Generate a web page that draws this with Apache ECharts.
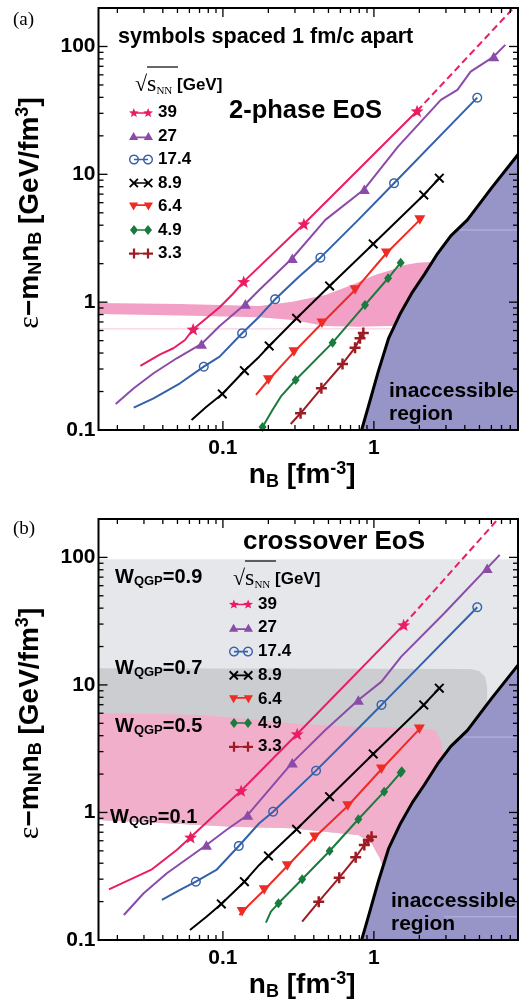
<!DOCTYPE html>
<html>
<head>
<meta charset="utf-8">
<script src="https://cdn.jsdelivr.net/npm/echarts@6.0.0/dist/echarts.min.js"></script>
<style>
html,body{margin:0;padding:0;background:#ffffff;}
#chart{width:521px;height:1002px;}
</style>
</head>
<body>
<div id="chart"></div>
<script>
const SANS = '"Liberation Sans", Arial, Helvetica, sans-serif';
const SERIF = '"Liberation Serif", "Times New Roman", serif';

// ---------- axes ----------
const xMin = 0.015, xMax = 9, yMin = 0.1, yMax = 200;
const xTickLabels = [0.1, 1];
const yTickLabels = [0.1, 1, 10, 100];
const xMajorTicks = [0.1, 1];
const xMinorTicks = [0.02,0.03,0.04,0.05,0.06,0.07,0.08,0.09,0.2,0.3,0.4,0.5,0.6,0.7,0.8,0.9,2,3,4,5,6,7,8];
const yMajorTicks = [1, 10, 100];
const yMinorTicks = [0.2,0.3,0.4,0.5,0.6,0.7,0.8,0.9,2,3,4,5,6,7,8,9,20,30,40,50,60,70,80,90];

// ---------- series ----------
const seriesNames = ['39', '27', '17.4', '8.9', '6.4', '4.9', '3.3'];
const seriesColors = ['#ea1d62', '#8b4ba8', '#3461ab', '#000000', '#ee2b24', '#1b7a3e', '#9e1b22'];
const wLabels = ['0.9', '0.7', '0.5', '0.1'];

// panel (a): [nB, eps, marker?]
const a39 = [[0.0284,0.317,0],[0.0384,0.391,0],[0.0470,0.436,0],[0.0561,0.506,0],[0.0635,0.614,1],[0.0778,0.748,0],[0.0951,0.912,0],[0.1163,1.159,0],[0.1373,1.447,1],[0.3436,4.09,1],[1.932,31.3,1]];
const a39dash = [[1.932,31.3],[8.4,200]];
const a27 = [[0.0195,0.1597,0],[0.02567,0.212,0],[0.03473,0.2778,0],[0.04945,0.364,0],[0.07214,0.471,1],[0.0951,0.6513,0],[0.1409,0.968,1],[0.174,1.246,0],[0.288,2.206,1],[0.477,4.40,0],[0.864,7.645,1],[1.444,16.47,0],[2.777,38.2,0],[3.574,45.75,0],[4.37,63.6,0],[6.22,83.4,1],[7.41,102.9,0]];
const a17 = [[0.02567,0.1494,0],[0.03473,0.177,0],[0.05198,0.2319,0],[0.07468,0.3128,1],[0.0951,0.3747,0],[0.134,0.571,1],[0.174,0.770,0],[0.2217,1.054,1],[0.3186,1.583,0],[0.442,2.230,1],[0.788,4.40,0],[1.359,8.52,1],[4.835,39.8,1]];
const a89 = [[0.0620,0.1197,0],[0.0778,0.1522,0],[0.0991,0.1913,1],[0.1388,0.291,1],[0.174,0.3747,0],[0.2025,0.4544,1],[0.3077,0.748,1],[0.5088,1.339,1],[0.9894,2.854,1],[2.138,6.90,1],[2.711,9.32,1]];
const a64 = [[0.1656,0.1879,0],[0.2003,0.2461,1],[0.2954,0.407,1],[0.453,0.6839,1],[0.7502,1.246,1],[1.2098,2.413,1],[2.014,4.40,1]];
const a49 = [[0.181,0.098,0],[0.183,0.1055,1],[0.2129,0.1434,0],[0.2416,0.1823,0],[0.303,0.2461,1],[0.5325,0.4821,1],[0.8729,0.9508,1],[1.2409,1.538,1],[1.504,2.038,1]];
const a33 = [[0.2811,0.1114,0],[0.3268,0.1351,1],[0.4489,0.212,1],[0.6194,0.3284,1],[0.7502,0.4406,1],[0.8092,0.522,1],[0.8507,0.574,1]];

// panel (b)
const b39 = [[0.01759,0.2498,0],[0.0339,0.3585,0],[0.04945,0.508,0],[0.0611,0.639,1],[0.0905,0.9857,0],[0.132,1.482,1],[0.3105,4.128,1],[1.574,29.55,1]];
const b39dash = [[1.574,29.55],[6.64,200]];
const b27 = [[0.02207,0.157,0],[0.02987,0.2324,0],[0.04252,0.3336,0],[0.0778,0.5561,1],[0.1053,0.729,0],[0.1459,0.9559,1],[0.288,2.458,1],[0.477,4.436,0],[0.789,7.627,1],[1.122,10.61,0],[1.517,16.67,0],[2.924,36.5,0],[5.623,82.3,1],[6.81,104.6,0]];
const b17 = [[0.03943,0.206,0],[0.05198,0.2467,0],[0.0662,0.2867,1],[0.0905,0.354,0],[0.1274,0.546,1],[0.174,0.823,0],[0.2151,1.0146,1],[0.4138,2.128,1],[0.7687,4.436,0],[1.122,6.97,1],[4.835,40.7,1]];
const b89 = [[0.0605,0.1198,0],[0.0778,0.1523,0],[0.0976,0.1916,1],[0.1388,0.2867,1],[0.174,0.3876,0],[0.2003,0.456,1],[0.3077,0.738,1],[0.5088,1.33,1],[0.9894,2.876,1],[2.138,6.97,1],[2.711,9.42,1]];
const b64 = [[0.1287,0.157,0],[0.134,0.1667,1],[0.1878,0.2467,1],[0.267,0.38,1],[0.4058,0.639,1],[0.6712,1.124,1],[1.122,2.183,1],[2.0,4.5,1]];
const b49 = [[0.1927,0.1367,0],[0.2078,0.1667,0],[0.2331,0.194,1],[0.3348,0.2993,1],[0.5088,0.4989,1],[0.789,0.8844,1],[1.169,1.456,1],[1.504,2.052,1],[1.53,2.1,1]];
const b33 = [[0.3348,0.1391,0],[0.431,0.1998,1],[0.5892,0.308,1],[0.7572,0.4453,1],[0.864,0.5561,1],[0.918,0.6085,1],[0.9645,0.6457,1]];

// inaccessible-region boundary (both panels)
const boundary = [[0.829,0.1],[0.918,0.152],[1.067,0.285],[1.25,0.52],[1.5,0.82],[1.8,1.2],[2.16,1.65],[2.64,2.4],[3.23,3.3],[4.16,4.4],[6,7.8],[9,14.3]];

// panel (a) pink band (upper edge left->right, lower edge right->left)
const pinkAUpper = [[0.015,0.986],[0.052,0.968],[0.174,0.934],[0.288,1.009],[0.477,1.139],[0.713,1.363],[1.015,1.633],[1.305,1.786],[1.597,1.955],[1.953,2.038],[2.513,2.075],[9,2.14]];
const pinkALower = [[9,0.651],[1.181,0.651],[0.789,0.643],[0.477,0.651],[0.288,0.726],[0.174,0.762],[0.052,0.787],[0.015,0.809]];
const faintPinkA = [[0.015,0.617],[1.34,0.617]];
const faintPurpleA = [[3.57,3.67],[9,3.67]];
const faintPurpleB = [[3.9,3.9],[9,3.9]];
const faintPurpleB2 = [[2.92,0.152],[9,0.152]];

// panel (b) W_QGP contours
const w09 = [[0.015,96.8],[9,96.8]];
const w07 = [[0.015,13.52],[4.37,13.35],[4.98,12.88],[5.457,11.55],[5.623,9.70],[5.623,5.31],[9,0.1]];
const w05 = [[0.015,6.03],[0.0703,5.82],[0.174,5.31],[0.3186,4.94],[0.788,4.68],[1.953,4.60],[2.528,4.44],[2.769,3.70],[2.897,2.72],[3.574,1.25],[9,0.1]];
const w01 = [[0.015,0.873],[0.0425,0.823],[0.1163,0.774],[0.288,0.752],[0.477,0.707],[0.789,0.666],[0.9645,0.5734],[1.095,0.4373],[1.169,0.354],[1.953,0.1],[9,0.1]];

// ---------- symbol paths ----------
function P(polys){return 'path://'+polys.map(pl=>'M'+pl.map(q=>q[0].toFixed(3)+' '+q[1].toFixed(3)).join(' L')+' Z').join(' ');}
function starPoly(cx,cy,R,r){const pts=[];for(let i=0;i<10;i++){const a=(-90+36*i)*Math.PI/180;const rr=i%2?r:R;pts.push([cx+rr*Math.cos(a),cy+rr*Math.sin(a)]);}return pts;}
function circlePoly(cx,cy,R,n,rev){const pts=[];for(let i=0;i<n;i++){const a=2*Math.PI*i/n;pts.push([cx+R*Math.cos(a),cy+R*Math.sin(a)]);}return rev?pts.reverse():pts;}
function barPoly(x0,x1,cy,t){return [[x0,cy-t/2],[x1,cy-t/2],[x1,cy+t/2],[x0,cy+t/2]];}
function xPolys(cx,cy,R,t){const s=Math.SQRT1_2*t/2;return [
  [[cx-R+s,cy-R-s],[cx+R+s,cy+R-s],[cx+R-s,cy+R+s],[cx-R-s,cy-R+s]],
  [[cx-R-s,cy+R-s],[cx+R-s,cy-R-s],[cx+R+s,cy-R+s],[cx-R+s,cy+R+s]]];}
function plusPolys(cx,cy,R,t){return [barPoly(cx-R,cx+R,cy,t),[[cx-t/2,cy-R],[cx+t/2,cy-R],[cx+t/2,cy+R],[cx-t/2,cy+R]]];}
const shapeFns = [
  (c,R)=>[starPoly(c[0],c[1],R,R*0.42)],
  (c,R)=>[[[c[0],c[1]-R],[c[0]+0.866*R,c[1]+0.5*R],[c[0]-0.866*R,c[1]+0.5*R]]],
  (c,R)=>[circlePoly(c[0],c[1],R,28,false),circlePoly(c[0],c[1],R*0.72,28,true)],
  (c,R)=>xPolys(c[0],c[1],R*0.8,R*0.36),
  (c,R)=>[[[c[0]-0.866*R,c[1]-0.5*R],[c[0]+0.866*R,c[1]-0.5*R],[c[0],c[1]+R]]],
  (c,R)=>[[[c[0],c[1]-R],[c[0]+0.8*R,c[1]],[c[0],c[1]+R],[c[0]-0.8*R,c[1]]]],
  (c,R)=>plusPolys(c[0],c[1],R,R*0.45)
];
const markerSizes = [13, 11, 10, 10, 11, 10, 11];
const markerPaths = shapeFns.map(f=>P(f([0,0],5)));
const legendPaths = shapeFns.map(f=>P([].concat(f([5,5],5),[barPoly(5,19,5,1.6)],f([19,5],5))));

// ---------- helpers ----------
function labelFmt(list){return v=>{const h=list.find(t=>Math.abs(Math.log10(v/t))<1e-6);return h!==undefined?String(h):'';};}
const nameRich = {
  t:{fontSize:28,fontWeight:'bold',fontFamily:SANS,color:'#000',lineHeight:31},
  s:{fontSize:18,fontWeight:'bold',fontFamily:SANS,color:'#000',lineHeight:18,verticalAlign:'bottom'},
  p:{fontSize:18,fontWeight:'bold',fontFamily:SANS,color:'#000',lineHeight:18,verticalAlign:'top'},
  e:{fontSize:30,fontWeight:'normal',fontFamily:SERIF,color:'#000',lineHeight:31},
  z:{width:12,fontSize:10,lineHeight:10}
};
function axX(i){return {type:'log',logBase:10,gridIndex:i,min:xMin,max:xMax,
  axisLine:{show:false},axisTick:{show:false},minorTick:{show:false},splitLine:{show:false},
  axisLabel:{formatter:labelFmt(xTickLabels),margin:8,fontSize:21,fontWeight:'bold',fontFamily:SANS,color:'#000',showMinLabel:true,showMaxLabel:true},
  name:'{t|n}{s|B}{t| [fm}{p|-3}{t|]}{z| }',nameLocation:'middle',nameGap:20,nameTextStyle:{rich:nameRich}};}
function axY(i){return {type:'log',logBase:10,gridIndex:i,min:yMin,max:yMax,
  axisLine:{show:false},axisTick:{show:false},minorTick:{show:false},splitLine:{show:false},
  axisLabel:{formatter:labelFmt(yTickLabels),margin:3,fontSize:21,fontWeight:'bold',fontFamily:SANS,color:'#000',showMinLabel:true,showMaxLabel:true},
  name:'{z| }{e|ε}{t|−m}{s|N}{t|n}{s|B}{t| [GeV/fm}{p|3}{t|]}',nameLocation:'middle',nameGap:53,nameTextStyle:{rich:nameRich}};}

function polySeries(gi,pts,color,z){return {type:'custom',xAxisIndex:gi,yAxisIndex:gi,data:[[1,1]],z:z,silent:true,clip:true,
  renderItem:(params,api)=>({type:'polygon',shape:{points:pts.map(p=>api.coord(p))},style:{fill:color}})};}
function plainLine(gi,pts,color,width,z,type){return {type:'line',xAxisIndex:gi,yAxisIndex:gi,data:pts,symbol:'none',z:z,silent:true,clip:true,
  lineStyle:{color:color,width:width,type:type||'solid'},emphasis:{disabled:true}};}
function trajSeries(gi,k,pts){return {type:'line',name:seriesNames[k],xAxisIndex:gi,yAxisIndex:gi,z:4,silent:true,clip:true,
  data:pts.map(p=>({value:[p[0],p[1]],symbol:p[2]?markerPaths[k]:'none'})),
  symbolSize:markerSizes[k],symbolKeepAspect:true,showSymbol:true,smooth:false,
  lineStyle:{color:seriesColors[k],width:2},itemStyle:{color:seriesColors[k]},emphasis:{disabled:true}};}
function tickSeries(gi){return {type:'custom',xAxisIndex:gi,yAxisIndex:gi,data:[[1,1]],z:10,silent:true,clip:false,
  renderItem:(params,api)=>{
    const cs=params.coordSys,L=cs.x,T=cs.y,W=cs.width,H=cs.height,ch=[];
    const seg=(x1,y1,x2,y2)=>ch.push({type:'line',shape:{x1,y1,x2,y2},style:{stroke:'#000',lineWidth:1.3}});
    const xt=(v,len)=>{const px=api.coord([v,1])[0];seg(px,T+H,px,T+H-len);seg(px,T,px,T+len);};
    const yt=(v,len)=>{const py=api.coord([1,v])[1];seg(L,py,L+len,py);seg(L+W,py,L+W-len,py);};
    xMinorTicks.forEach(v=>xt(v,5));xMajorTicks.forEach(v=>xt(v,9));
    yMinorTicks.forEach(v=>yt(v,5));yMajorTicks.forEach(v=>yt(v,9));
    ch.push({type:'rect',shape:{x:L,y:T,width:W,height:H},style:{fill:null,stroke:'#000',lineWidth:2}});
    return {type:'group',children:ch};
  }};}

const trajA=[a39,a27,a17,a89,a64,a49,a33];
const trajB=[b39,b27,b17,b89,b64,b49,b33];
const purplePoly = boundary.concat([[9,0.1]]);
const pinkAPoly = pinkAUpper.concat(pinkALower);
const rev01 = w01.slice().reverse();

const series = [
  // panel a
  polySeries(0,pinkAPoly,'#f2a0c6',1),
  plainLine(0,faintPinkA,'#f7cfe0',1.2,1),
  polySeries(0,purplePoly,'#9795c8',2),
  plainLine(0,faintPurpleA,'#b9b8de',1,2),
  plainLine(0,boundary,'#000',3,5),
  plainLine(0,a39dash,seriesColors[0],2,4,[7,4]),
  ...trajA.map((d,k)=>trajSeries(0,k,d)),
  tickSeries(0),
  // panel b
  polySeries(1,w09.concat(rev01),'#e5e7ea',1),
  polySeries(1,w07.concat(rev01),'#cbcdd1',1),
  polySeries(1,w05.concat(rev01),'#f2afcb',1),
  polySeries(1,purplePoly,'#9795c8',2),
  plainLine(1,faintPurpleB,'#b9b8de',1,2),
  plainLine(1,faintPurpleB2,'#b9b8de',1,2),
  plainLine(1,boundary,'#000',3,5),
  plainLine(1,b39dash,seriesColors[0],2,4,[7,4]),
  ...trajB.map((d,k)=>trajSeries(1,k,d)),
  tickSeries(1)
];

const legendData = seriesNames.map((n,i)=>({name:n,icon:legendPaths[i]}));
const legendText = {fontFamily:SANS,fontWeight:'bold',fontSize:17,color:'#000',lineHeight:17};
const legends = [
  {orient:'vertical',left:129,top:104,padding:0,itemWidth:24,itemHeight:10,itemGap:6.5,itemStyle:{borderWidth:0},selectedMode:false,textStyle:legendText,data:legendData},
  {orient:'vertical',left:229,top:595.5,padding:0,itemWidth:24,itemHeight:10,itemGap:6.8,itemStyle:{borderWidth:0},selectedMode:false,textStyle:legendText,data:legendData}
];

function txt(x,y,text,font,lh){const st={text:text,font:font,fill:'#000',textVerticalAlign:'middle'};if(lh)st.lineHeight=lh;return {type:'text',x:x,y:y,z:20,silent:true,style:st};}
const headRich = {
  r:{fontSize:22,fontFamily:SERIF,lineHeight:24,fill:'#000'},
  s:{fontSize:24,fontFamily:SERIF,lineHeight:24,fill:'#000'},
  n:{fontSize:11,fontFamily:SERIF,lineHeight:11,verticalAlign:'bottom',fill:'#000'},
  g:{fontSize:17,fontWeight:'bold',fontFamily:SANS,lineHeight:24,fill:'#000'}
};
const wRich = {
  w:{fontSize:20,fontWeight:'bold',fontFamily:SANS,lineHeight:22,fill:'#000'},
  q:{fontSize:13,fontWeight:'bold',fontFamily:SANS,lineHeight:13,verticalAlign:'bottom',fill:'#000'}
};
function richTxt(x,y,text,rich){return {type:'text',x:x,y:y,z:20,silent:true,style:{text:text,rich:rich,fill:'#000',textVerticalAlign:'middle'}};}
const wPos = [[115,577],[115,668],[115,726],[110,817]];

const graphic = [
  txt(13,20,'(a)','19px '+SERIF),
  txt(13,529,'(b)','19px '+SERIF),
  txt(118,37,'symbols spaced 1 fm/c apart','bold 21.6px '+SANS),
  txt(229,111,'2-phase EoS','bold 25.5px '+SANS),
  txt(243,542,'crossover EoS','bold 26px '+SANS),
  richTxt(135,85,'{r|√}{s|s}{n|NN}{g| [GeV]}',headRich),
  {type:'line',z:20,silent:true,shape:{x1:147,y1:67,x2:178,y2:67},style:{stroke:'#000',lineWidth:1.2}},
  richTxt(233,579,'{r|√}{s|s}{n|NN}{g| [GeV]}',headRich),
  {type:'line',z:20,silent:true,shape:{x1:245,y1:561,x2:276,y2:561},style:{stroke:'#000',lineWidth:1.2}},
  ...wLabels.map((w,i)=>richTxt(wPos[i][0],wPos[i][1],'{w|W}{q|QGP}{w|='+w+'}',wRich)),
  txt(389,403,'inaccessible\nregion','bold 21px '+SANS,23),
  txt(391,913,'inaccessible\nregion','bold 21px '+SANS,23)
];

const chart = echarts.init(document.getElementById('chart'), null, {renderer:'canvas', width:521, height:1002});
chart.setOption({
  animation:false,
  backgroundColor:'#ffffff',
  grid:[{left:98.5,top:8,width:421.5,height:422,show:false},{left:98.5,top:519,width:421.5,height:421,show:false}],
  xAxis:[axX(0),axX(1)],
  yAxis:[axY(0),axY(1)],
  legend:legends,
  graphic:graphic,
  series:series
});
</script>
</body>
</html>
